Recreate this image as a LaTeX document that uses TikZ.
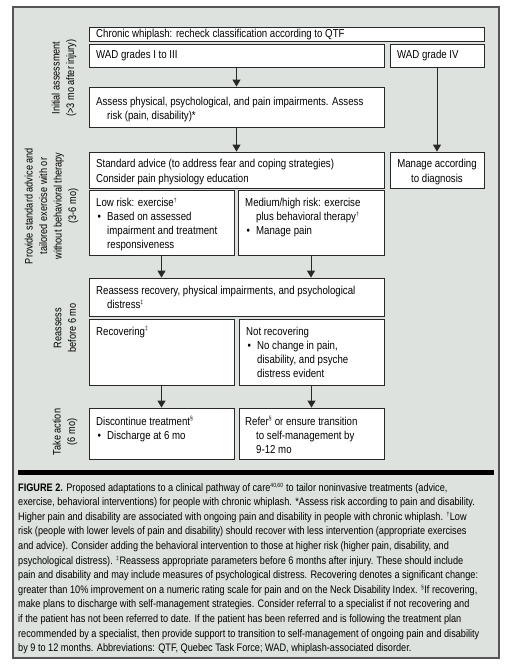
\documentclass[tikz,border=0pt]{standalone}
\usepackage{fontspec}
\setmainfont{Liberation Sans}[FakeStretch=0.84]
\usetikzlibrary{arrows.meta}
\definecolor{panelbg}{RGB}{221,226,222}
\definecolor{panelline}{RGB}{85,85,85}
\definecolor{boxline}{RGB}{40,40,40}
\newcommand{\bfont}{\fontsize{11.5}{14}\selectfont}
\newcommand{\cfont}{\fontsize{10.9}{14.6}\selectfont}
\newcommand{\bul}{\makebox[11pt][l]{\hspace{1.5pt}•}}
\newcommand{\ind}{\hspace*{11pt}}
\newcommand{\sups}[1]{\textsuperscript{\fontsize{6}{6}\selectfont #1}}
\tikzset{
  x=1pt, y=-1pt,
  boxframe/.style={draw=boxline, line width=0.8pt, fill=white},
  boxtext/.style={anchor=base west, inner sep=0pt, font=\bfont},
  sidelabel/.style={rotate=90, align=center, inner sep=0pt, font=\fontsize{10.9}{14.5}\selectfont},
  flow/.style={draw=boxline, line width=0.9pt, -{Triangle[width=8pt,length=7pt]}},
  capline/.style={anchor=base west, inner sep=0pt, font=\cfont},
}
\newcommand{\tb}[2]{\parbox[t]{#1}{\bfont\raggedright #2}}
\begin{document}
\begin{tikzpicture}
\useasboundingbox (0,0) rectangle (512,668);
\fill[white] (0,0) rectangle (512,668);
\draw[panelline, fill=panelbg, line width=1.2pt] (13,7) rectangle (499,658);

% boxes
\draw[boxframe] (89,27) rectangle (484,41) node[midway, inner sep=0pt, minimum width=395pt, minimum height=14pt] (chronic) {};
\draw[boxframe] (89,44) rectangle (384,67) node[midway, inner sep=0pt, minimum width=295pt, minimum height=23pt] (wad13) {};
\draw[boxframe] (390,44) rectangle (484,67) node[midway, inner sep=0pt, minimum width=94pt, minimum height=23pt] (wad4) {};
\draw[boxframe] (89,87) rectangle (384,127) node[midway, inner sep=0pt, minimum width=295pt, minimum height=40pt] (assess) {};
\draw[boxframe] (89,152) rectangle (384,188) node[midway, inner sep=0pt, minimum width=295pt, minimum height=36pt] (std) {};
\draw[boxframe] (390,152) rectangle (484,188) node[midway, inner sep=0pt, minimum width=94pt, minimum height=36pt] (manage) {};
\draw[boxframe] (89,190) rectangle (234,255) node[midway, inner sep=0pt, minimum width=145pt, minimum height=65pt] (low) {};
\draw[boxframe] (238,190) rectangle (384,255) node[midway, inner sep=0pt, minimum width=146pt, minimum height=65pt] (med) {};
\draw[boxframe] (89,278) rectangle (384,316) node[midway, inner sep=0pt, minimum width=295pt, minimum height=38pt] (reassess) {};
\draw[boxframe] (89,319) rectangle (234,385) node[midway, inner sep=0pt, minimum width=145pt, minimum height=66pt] (recov) {};
\draw[boxframe] (239,319) rectangle (384,385) node[midway, inner sep=0pt, minimum width=145pt, minimum height=66pt] (notrec) {};
\draw[boxframe] (89,408) rectangle (234,459) node[midway, inner sep=0pt, minimum width=145pt, minimum height=51pt] (discont) {};
\draw[boxframe] (239,408) rectangle (384,459) node[midway, inner sep=0pt, minimum width=145pt, minimum height=51pt] (refer) {};

% texts
\node[boxtext] (chronic-t) at (96,38) {\tb{380pt}{Chronic whiplash: recheck classification according to QTF}};
\node[boxtext] (wad13-t) at (96,58.6) {\tb{280pt}{WAD grades I to III}};
\node[boxtext] (wad4-t) at (397,58.6) {\tb{85pt}{WAD grade IV}};
\node[boxtext] (assess-t) at (96,105.5) {\tb{285pt}{Assess physical, psychological, and pain impairments. Assess\\\ind risk (pain, disability)*}};
\node[boxtext] (std-t) at (96,168) {\tb{285pt}{Standard advice (to address fear and coping strategies)\\Consider pain physiology education}};
\node[anchor=base, inner sep=0pt] (manage-t) at (437,168) {\parbox[t]{90pt}{\bfont\centering Manage according\\to diagnosis}};
\node[boxtext] (low-t) at (96,206.5) {\tb{136pt}{Low risk: exercise\sups{†}\\\bul Based on assessed\\\ind impairment and treatment\\\ind responsiveness}};
\node[boxtext] (med-t) at (245,206.5) {\tb{136pt}{Medium/high risk: exercise\\\ind plus behavioral therapy\sups{†}\\\bul Manage pain}};
\node[boxtext] (reassess-t) at (96,294.5) {\tb{285pt}{Reassess recovery, physical impairments, and psychological\\\ind distress\sups{‡}}};
\node[boxtext] (recov-t) at (96,335) {\tb{136pt}{Recovering\sups{‡}}};
\node[boxtext] (notrec-t) at (246,335) {\tb{136pt}{Not recovering\\\bul No change in pain,\\\ind disability, and psyche\\\ind distress evident}};
\node[boxtext] (discont-t) at (96,425) {\tb{136pt}{Discontinue treatment\sups{§}\\\bul Discharge at 6 mo}};
\node[boxtext] (refer-t) at (245,425) {\tb{136pt}{Refer\sups{§} or ensure transition\\\ind to self-management by\\\ind 9-12 mo}};

% side labels
\node[sidelabel] (lab1) at (64,78) {Initial assessment\\(>3 mo after injury)};
\node[sidelabel] (lab2) at (51.5,206) {Provide standard advice and\\tailored exercise with or\\without behavioral therapy\\(3-6 mo)};
\node[sidelabel] (lab3) at (65,328) {Reassess\\before 6 mo};
\node[sidelabel] (lab4) at (65,432) {Take action\\(6 mo)};

% connectors
\draw[flow] (wad13.south) -- (assess.north);
\draw[flow] (wad4.south) -- (manage.north);
\draw[flow] (assess.south) -- (std.north);
\draw[flow] (low.south) -- (low.south |- reassess.north);
\draw[flow] (med.south) -- (med.south |- reassess.north);
\draw[flow] (recov.south) -- (discont.north);
\draw[flow] (notrec.south) -- (refer.north);

% separator bar
\fill[black] (18,470) rectangle (494,475);

% caption
\node[capline] (c1) at (18,491) {\textbf{FIGURE 2.} Proposed adaptations to a clinical pathway of care\sups{40,60} to tailor noninvasive treatments (advice,};
\node[capline] (c2) at (18,505.6) {exercise, behavioral interventions) for people with chronic whiplash. *Assess risk according to pain and disability.};
\node[capline] (c3) at (18,520.2) {Higher pain and disability are associated with ongoing pain and disability in people with chronic whiplash. \sups{†}Low};
\node[capline] (c4) at (18,534.8) {risk (people with lower levels of pain and disability) should recover with less intervention (appropriate exercises};
\node[capline] (c5) at (18,549.4) {and advice). Consider adding the behavioral intervention to those at higher risk (higher pain, disability, and};
\node[capline] (c6) at (18,564) {psychological distress). \sups{‡}Reassess appropriate parameters before 6 months after injury. These should include};
\node[capline] (c7) at (18,578.6) {pain and disability and may include measures of psychological distress. Recovering denotes a significant change:};
\node[capline] (c8) at (18,593.2) {greater than 10\% improvement on a numeric rating scale for pain and on the Neck Disability Index. \sups{§}If recovering,};
\node[capline] (c9) at (18,607.8) {make plans to discharge with self-management strategies. Consider referral to a specialist if not recovering and};
\node[capline] (c10) at (18,622.4) {if the patient has not been referred to date. If the patient has been referred and is following the treatment plan};
\node[capline] (c11) at (18,637) {recommended by a specialist, then provide support to transition to self-management of ongoing pain and disability};
\node[capline] (c12) at (18,651.6) {by 9 to 12 months. Abbreviations: QTF, Quebec Task Force; WAD, whiplash-associated disorder.};
\end{tikzpicture}
\end{document}
